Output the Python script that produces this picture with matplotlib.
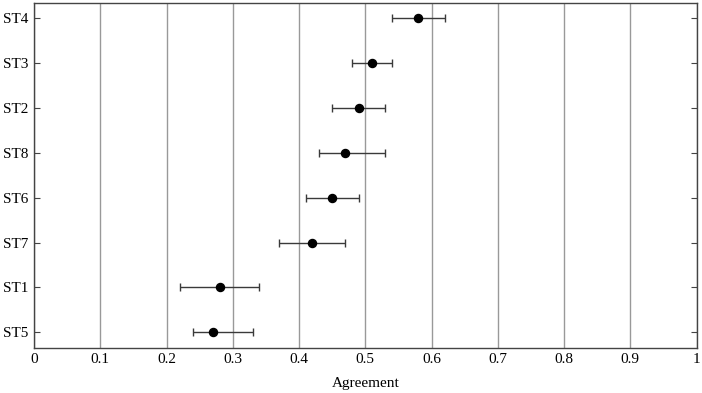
import matplotlib
matplotlib.use("Agg")
import matplotlib.pyplot as plt

categories = ["ST5", "ST1", "ST7", "ST6", "ST8", "ST2", "ST3", "ST4"]
means = [0.27, 0.28, 0.42, 0.45, 0.47, 0.49, 0.51, 0.58]
lower = [0.24, 0.22, 0.37, 0.41, 0.43, 0.45, 0.48, 0.54]
upper = [0.33, 0.34, 0.47, 0.49, 0.53, 0.53, 0.54, 0.62]
xticks = [0, 0.1, 0.2, 0.3, 0.4, 0.5, 0.6, 0.7, 0.8, 0.9, 1]
xticklabels = ["0", "0.1", "0.2", "0.3", "0.4", "0.5", "0.6", "0.7", "0.8", "0.9", "1"]

plt.rcParams['font.family'] = ['Liberation Serif', 'DejaVu Serif']
plt.rcParams['font.size'] = 11

fig = plt.figure(figsize=(7.02, 3.93), dpi=100)
ax = fig.add_axes([34/702, 1 - 348.3/393, (696.5-34)/702, (348.3-2.8)/393])

ypos = list(range(len(categories)))
xerr = [[m - l for m, l in zip(means, lower)], [u - m for m, u in zip(means, upper)]]
ax.errorbar(means, ypos, xerr=xerr, fmt='o', color='black', markersize=5.8,
            ecolor='#3a3a3a', elinewidth=1.0, capsize=2.7, capthick=1.0, zorder=3)

ax.set_xlim(0, 1)
ax.set_ylim(-0.36, 7.35)
ax.set_xticks(xticks)
ax.set_xticklabels(xticklabels)
ax.set_yticks(ypos)
ax.set_yticklabels(categories)
ax.xaxis.grid(True, color='#999999', linewidth=1.0)
ax.set_axisbelow(True)
ax.tick_params(axis='y', direction='in', length=4, left=True, right=True, width=0.8, color='#444444', pad=4)
ax.tick_params(axis='x', direction='in', length=0, pad=3.5)
for s in ax.spines.values():
    s.set_color('#444444')
    s.set_linewidth(1.0)
ax.set_xlabel("Agreement", labelpad=7.5)

fig.savefig("out.png", dpi=100)
